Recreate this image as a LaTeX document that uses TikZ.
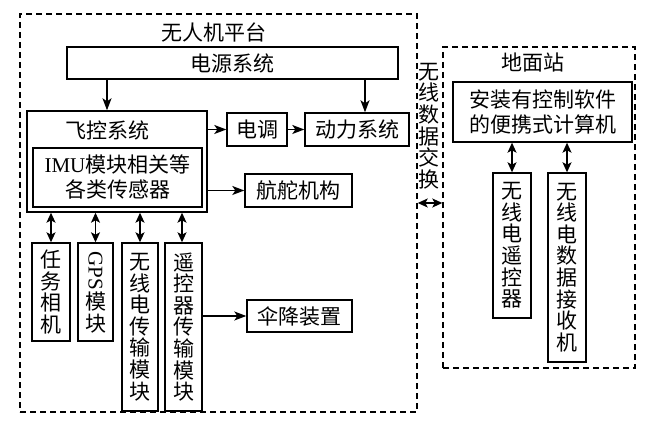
\documentclass[tikz,border=0pt]{standalone}
\usepackage{fontspec}
\setmainfont{Liberation Serif}
\newfontfamily\cjk{Noto Sans CJK SC}
\usetikzlibrary{arrows.meta}
\newcommand{\lat}[1]{{\rmfamily #1}}

\begin{document}
\begin{tikzpicture}[x=0.5pt,y=-0.5pt,
  font=\cjk\fontsize{10.5}{12.5}\selectfont,
  box/.style={draw,line width=0.7pt,inner sep=0pt,align=center},
  vbox/.style={box,font=\cjk\fontsize{10.5}{10.8}\selectfont},
  group/.style={draw,line width=0.7pt,dash pattern=on 3pt off 2pt,inner sep=0pt},
  arr/.style={-{Stealth[length=6pt,width=4.5pt,inset=1.5pt]},line width=0.7pt},
  dbl/.style={{Stealth[length=5pt,width=4.5pt,inset=1.2pt]}-{Stealth[length=5pt,width=4.5pt,inset=1.2pt]},line width=0.7pt}]
  \useasboundingbox (0,0) rectangle (651,421);
  \node[group,minimum width=198.5pt,minimum height=199pt] (uav) at (218.5,213) {};
  \node (uavt) at (214,32) {无人机平台};
  \node[box,minimum width=165.5pt,minimum height=16pt] (pwr) at (232.5,63) {电源系统};
  \node[box,minimum width=90pt,minimum height=50.5pt] (fc) at (117,161.5) {};
  \node (fct) at (107,130) {飞控系统};
  \node[box,minimum width=84.5pt,minimum height=29.5pt] (imu) at (117.5,177.5) {\lat{IMU}模块相关等\\各类传感器};
  \node[box,minimum width=30pt,minimum height=16.5pt] (esc) at (257,129.5) {电调};
  \node[box,minimum width=52pt,minimum height=16.5pt] (mot) at (357,129.5) {动力系统};
  \node[box,minimum width=53.5pt,minimum height=16.5pt] (srv) at (298.5,190.5) {航舵机构};
  \node[box,minimum width=52.5pt,minimum height=16pt] (chute) at (299.5,316) {伞降装置};
  \node[vbox,minimum width=19pt,minimum height=49pt] (cam) at (51,292) {任\\务\\相\\机};
  \node[vbox,minimum width=17.5pt,minimum height=49pt] (gps) at (95.5,292) {\rotatebox{-90}{\lat{GPS}}\\模\\块};
  \node[vbox,minimum width=18pt,minimum height=84pt] (radio) at (140,327) {无\\线\\电\\传\\输\\模\\块};
  \node[vbox,minimum width=18.5pt,minimum height=84pt] (rc) at (183.5,327) {遥\\控\\器\\传\\输\\模\\块};
  \node[group,minimum width=96pt,minimum height=160.5pt] (gs) at (539,207.5) {};
  \node (gst) at (533,63) {地面站};
  \node[box,minimum width=89.5pt,minimum height=30pt] (pc) at (542.5,112) {安装有控制软件\\的便携式计算机};
  \node[vbox,minimum width=19pt,minimum height=72.5pt] (rcg) at (512,245.5) {无\\线\\电\\遥\\控\\器};
  \node[vbox,minimum width=19pt,minimum height=94.5pt] (rx) at (567,267.5) {无\\线\\电\\数\\据\\接\\收\\机};
  \node[align=center,font=\cjk\fontsize{10.5}{10.8}\selectfont] (xt) at (429,126) {无\\线\\数\\据\\交\\换};
  \coordinate (xc) at (429,203);
  \draw[arr] ([xshift=-5pt]fc.north |- pwr.south) -- ([xshift=-5pt]fc.north);
  \draw[arr] ([xshift=4pt]mot.north |- pwr.south) -- ([xshift=4pt]mot.north);
  \draw[arr] (fc.east |- esc.west) -- (esc.west);
  \draw[arr] (esc.east) -- (mot.west);
  \draw[arr] (fc.east |- srv.west) -- (srv.west);
  \draw[arr] (rc.east |- chute.west) -- (chute.west);
  \draw[dbl] (cam.north |- fc.south) -- (cam.north);
  \draw[dbl] (gps.north |- fc.south) -- (gps.north);
  \draw[dbl] (radio.north |- fc.south) -- (radio.north);
  \draw[dbl] ([xshift=-0.75pt]rc.north |- fc.south) -- ([xshift=-0.75pt]rc.north);
  \draw[dbl] (rcg.north |- pc.south) -- (rcg.north);
  \draw[dbl] (rx.north |- pc.south) -- (rx.north);
  \draw[dbl] (uav.east |- xc) -- (gs.west |- xc);
\end{tikzpicture}
\end{document}
